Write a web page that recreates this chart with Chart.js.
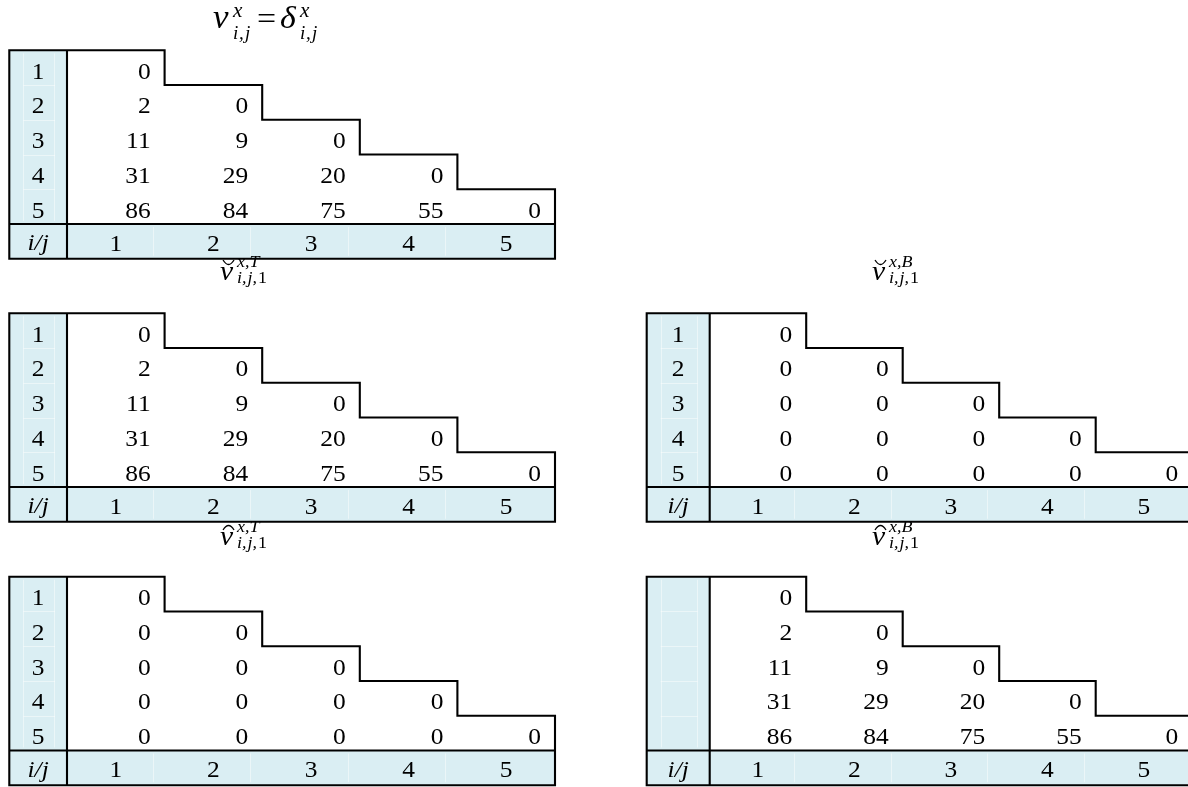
<!DOCTYPE html>
<html><head><meta charset="utf-8">
<script src="https://cdn.jsdelivr.net/npm/chart.js@4.4.1/dist/chart.umd.min.js"></script>
<style>html,body{margin:0;padding:0;background:#fff}#wrap{width:1188px;height:787px;position:relative}</style>
</head><body><div id="wrap"><canvas id="c"></canvas></div>
<script>
// ---------- data ----------
const rowLabels = ['1', '2', '3', '4', '5'];
const colLabels = ['1', '2', '3', '4', '5'];
const cornerLabel = 'i/j';
const vDelta  = [[0], [2, 0], [11, 9, 0], [31, 29, 20, 0], [86, 84, 75, 55, 0]];
const vBreveT = [[0], [2, 0], [11, 9, 0], [31, 29, 20, 0], [86, 84, 75, 55, 0]];
const vBreveB = [[0], [0, 0], [0, 0, 0], [0, 0, 0, 0], [0, 0, 0, 0, 0]];
const vHatT   = [[0], [0, 0], [0, 0, 0], [0, 0, 0, 0], [0, 0, 0, 0, 0]];
const vHatB   = [[0], [2, 0], [11, 9, 0], [31, 29, 20, 0], [86, 84, 75, 55, 0]];

// ---------- layout ----------
const W = 1188, H = 787;
const colZero = [67, 709.7];      // px of the header-column right edge
const colW = [97.6, 96.5];        // px per column
const headerW = [57.7, 63];       // px width of header column
const rowTop = [50.3, 313.3, 576.7];
const rowH = 34.75;
const FILL = '#DAEEF3';
const FONT = '"Liberation Serif", "Times New Roman", Times, serif';
const STRETCH = 1.06;

const tables = [
  { values: vDelta,  c: 0, r: 0, rowLabels: true,  title: 'eq',     tx: 1.496, ty: -0.642 },
  { values: vBreveT, c: 0, r: 1, rowLabels: true,  title: 'breveT', tx: 1.568, ty: -0.958 },
  { values: vBreveB, c: 1, r: 1, rowLabels: true,  title: 'breveB', tx: 1.682, ty: -0.958 },
  { values: vHatT,   c: 0, r: 2, rowLabels: true,  title: 'hatT',   tx: 1.568, ty: -0.912 },
  { values: vHatB,   c: 1, r: 2, rowLabels: false, title: 'hatB',   tx: 1.682, ty: -0.912 }
];

const scales = {};
[0, 1].forEach(c => {
  scales['x' + c] = { type: 'linear', display: false, bounds: 'data',
    min: -colZero[c] / colW[c], max: (W - colZero[c]) / colW[c] };
});
[0, 1, 2].forEach(r => {
  scales['y' + r] = { type: 'linear', display: false, bounds: 'data', reverse: true,
    min: -rowTop[r] / rowH, max: (H - rowTop[r]) / rowH };
});

const datasets = tables.map(t => {
  const data = [];
  t.values.forEach((row, i) => row.forEach((v, j) => data.push({ x: j + 1, y: i + 0.5, v: v })));
  return { data, xAxisID: 'x' + t.c, yAxisID: 'y' + t.r, pointRadius: 0, pointHoverRadius: 0, showLine: false };
});

function txt(ctx, s, x, y, font, align) {
  ctx.save();
  ctx.font = font;
  const w = ctx.measureText(s).width * STRETCH;
  let x0 = x;
  if (align === 'center') x0 = x - w / 2;
  else if (align === 'right') x0 = x - w;
  ctx.translate(x0, y);
  ctx.scale(STRETCH, 1);
  ctx.textAlign = 'left';
  ctx.textBaseline = 'alphabetic';
  ctx.fillStyle = '#000';
  ctx.fillText(s, 0, 0);
  ctx.restore();
  return w;
}

function drawTitle(ctx, kind, X, Y) {
  if (kind === 'eq') {
    txt(ctx, 'v', X, Y, 'italic 33px ' + FONT);
    txt(ctx, 'x', X + 20, Y - 11, 'italic 20px ' + FONT);
    txt(ctx, 'i', X + 20, Y + 11, 'italic 18px ' + FONT);
    txt(ctx, ',', X + 26, Y + 11, 'italic 18px ' + FONT);
    txt(ctx, 'j', X + 32, Y + 11, 'italic 18px ' + FONT);
    txt(ctx, '=', X + 44, Y + 1, '32px ' + FONT);
    txt(ctx, '\u03B4', X + 67, Y, 'italic 32px ' + FONT);
    txt(ctx, 'x', X + 87, Y - 11, 'italic 20px ' + FONT);
    txt(ctx, 'i', X + 87, Y + 11, 'italic 18px ' + FONT);
    txt(ctx, ',', X + 93, Y + 11, 'italic 18px ' + FONT);
    txt(ctx, 'j', X + 99, Y + 11, 'italic 18px ' + FONT);
    return;
  }
  const sup = kind.endsWith('T') ? 'x,T' : 'x,B';
  txt(ctx, 'v', X, Y, 'italic 28px ' + FONT);
  txt(ctx, sup, X + 17, Y - 13, 'italic 17px ' + FONT);
  let w = txt(ctx, 'i,', X + 17, Y + 3, 'italic 17px ' + FONT);
  w += txt(ctx, 'j,', X + 17 + w + 1, Y + 3, 'italic 17px ' + FONT);
  txt(ctx, '1', X + 17 + w + 2, Y + 3, '17px ' + FONT);
  ctx.save();
  ctx.strokeStyle = '#000';
  ctx.lineWidth = 1.3;
  ctx.beginPath();
  if (kind.startsWith('breve')) {
    ctx.moveTo(X + 3, Y - 20);
    ctx.quadraticCurveTo(X + 8.5, Y - 11, X + 14, Y - 20);
  } else {
    ctx.moveTo(X + 3, Y - 15);
    ctx.quadraticCurveTo(X + 8.5, Y - 24, X + 14, Y - 15);
  }
  ctx.stroke();
  ctx.restore();
}

const tablePlugin = {
  id: 'tables',
  beforeDatasetsDraw(chart) {
    const ctx = chart.ctx;
    tables.forEach(t => {
      const xs = chart.scales['x' + t.c], ys = chart.scales['y' + t.r];
      const px = v => xs.getPixelForValue(v), py = v => ys.getPixelForValue(v);
      const hw = headerW[t.c] / colW[t.c];
      ctx.save();
      ctx.fillStyle = FILL;
      ctx.fillRect(px(-hw), py(0), px(0) - px(-hw), py(5) - py(0));
      ctx.fillRect(px(-hw), py(5), px(5) - px(-hw), py(6) - py(5));
      // faint cell lines inside the shaded areas
      ctx.strokeStyle = 'rgba(255,255,255,0.45)';
      ctx.lineWidth = 1;
      ctx.beginPath();
      for (let k = 1; k < 5; k++) {
        const y = Math.round(py(k)) + 0.5;
        ctx.moveTo(px(-hw) + 14, y); ctx.lineTo(px(0) - 12, y);
      }
      const xa = Math.round(px(-hw) + 14) + 0.5, xb = Math.round(px(0) - 13) + 0.5;
      ctx.moveTo(xa, py(0) + 3); ctx.lineTo(xa, py(5) - 3);
      ctx.moveTo(xb, py(0) + 3); ctx.lineTo(xb, py(5) - 3);
      for (let k = 1; k < 5; k++) {
        const x = Math.round(px(k) - 12) + 0.5;
        ctx.moveTo(x, py(5) + 3); ctx.lineTo(x, py(6) - 3);
      }
      ctx.stroke();
      // borders
      ctx.strokeStyle = '#000';
      ctx.lineWidth = 2.1;
      ctx.lineJoin = 'miter';
      ctx.beginPath();
      ctx.moveTo(px(-hw), py(0));
      ctx.lineTo(px(1), py(0));
      for (let k = 1; k <= 4; k++) {
        ctx.lineTo(px(k), py(k));
        ctx.lineTo(px(k + 1), py(k));
      }
      ctx.lineTo(px(5), py(6));
      ctx.lineTo(px(-hw), py(6));
      ctx.closePath();
      ctx.moveTo(px(0), py(0)); ctx.lineTo(px(0), py(6));
      ctx.moveTo(px(-hw), py(5)); ctx.lineTo(px(5), py(5));
      ctx.stroke();
      ctx.restore();
    });
  },
  afterDatasetsDraw(chart) {
    const ctx = chart.ctx;
    ctx.save();
    const f = '24px ' + FONT, fi = 'italic 24px ' + FONT;
    tables.forEach((t, di) => {
      const xs = chart.scales['x' + t.c], ys = chart.scales['y' + t.r];
      const px = v => xs.getPixelForValue(v), py = v => ys.getPixelForValue(v);
      const hw = headerW[t.c] / colW[t.c];
      const meta = chart.getDatasetMeta(di);
      meta.data.forEach((el, k) => {
        const v = chart.data.datasets[di].data[k].v;
        txt(ctx, String(v), el.x - 14, el.y + 11, f, 'right');
      });
      if (t.rowLabels) {
        rowLabels.forEach((l, i) => txt(ctx, l, px(-hw / 2), py(i + 0.5) + 11, f, 'center'));
      }
      txt(ctx, cornerLabel, px(-hw / 2), py(5.5) + 9, fi, 'center');
      colLabels.forEach((l, j) => txt(ctx, l, px(j + 0.5), py(5.5) + 9.5, f, 'center'));
      drawTitle(ctx, t.title, px(t.tx), py(t.ty));
    });
    ctx.restore();
  }
};

new Chart(document.getElementById('c'), {
  type: 'scatter',
  data: { datasets },
  options: {
    responsive: true, maintainAspectRatio: false, animation: false,
    layout: { padding: 0 },
    plugins: { legend: { display: false }, title: { display: false }, tooltip: { enabled: false } },
    events: [],
    scales
  },
  plugins: [tablePlugin]
});
</script></body></html>
